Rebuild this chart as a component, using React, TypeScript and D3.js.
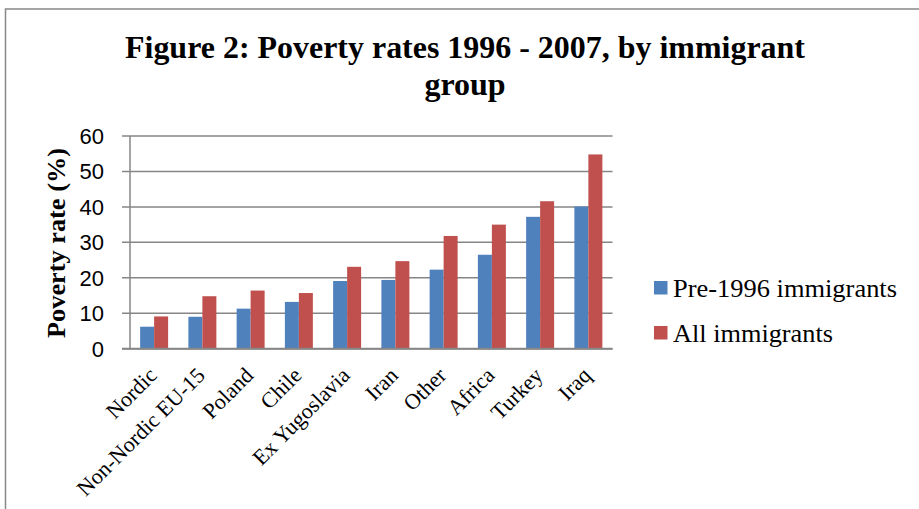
import React from "react";
import * as d3 from "d3";

const categories = ["Nordic", "Non-Nordic EU-15", "Poland", "Chile", "Ex Yugoslavia", "Iran", "Other", "Africa", "Turkey", "Iraq"];
const pre1996 = [6.2, 9.0, 11.3, 13.2, 19.1, 19.4, 22.3, 26.5, 37.2, 40.1];
const allImmigrants = [9.1, 14.8, 16.4, 15.7, 23.1, 24.7, 31.8, 35.0, 41.6, 54.8];
const seriesNames = ["Pre-1996 immigrants", "All immigrants"];
const seriesColors = ["#4F81BD", "#C0504D"];
const yTicks = [0, 10, 20, 30, 40, 50, 60];
const titleLines = ["Figure 2: Poverty rates 1996 - 2007, by immigrant", "group"];
const yTitle = "Poverty rate (%)";

const W = 919, H = 509;
const left = 130, right = 612.5, top = 136, bottom = 348.7;

export default function App() {
  const x = d3.scaleBand<string>().domain(categories).range([left, right]).paddingInner(0.42).paddingOuter(0.21);
  const y = d3.scaleLinear().domain([0, 60]).range([bottom, top]);
  const series = [pre1996, allImmigrants];
  const bw = x.bandwidth() / 2;
  const serif = "'Liberation Serif', 'Times New Roman', serif";
  const sans = "'Liberation Sans', Arial, sans-serif";
  return (
    <svg width={W} height={H} style={{ position: "absolute", left: 0, top: 0, background: "#fff" }}>
      <rect x={5.5} y={9} width={W + 10} height={H + 10} fill="#fff" stroke="#888" strokeWidth={1.5} />
      <text x={465} y={58} textAnchor="middle" fontFamily={serif} fontWeight="bold" fontSize={32} textLength={680} lengthAdjust="spacingAndGlyphs">{titleLines[0]}</text>
      <text x={465} y={95} textAnchor="middle" fontFamily={serif} fontWeight="bold" fontSize={32}>{titleLines[1]}</text>
      {yTicks.map(t => (
        <g key={t}>
          <line x1={left - 8} x2={right} y1={y(t)} y2={y(t)} stroke="#868686" strokeWidth={1.5} />
          <text x={104} y={y(t)} dy="0.36em" textAnchor="end" fontFamily={sans} fontSize={22} fill="#000">{t}</text>
        </g>
      ))}
      {categories.map((c, i) => (
        <g key={c}>
          {series.map((s, j) => (
            <rect key={j} x={(x(c) as number) + j * bw} y={y(s[i])} width={bw} height={bottom - y(s[i])} fill={seriesColors[j]} />
          ))}
          <text transform={`translate(${(x(c) as number) + x.bandwidth() / 2 + 4},${bottom + 28}) rotate(-45)`} textAnchor="end" fontFamily={serif} fontSize={22}>{c}</text>
        </g>
      ))}
      <line x1={left} x2={left} y1={top} y2={bottom} stroke="#868686" strokeWidth={1.5} />
      <line x1={left - 8} x2={right} y1={bottom} y2={bottom} stroke="#868686" strokeWidth={2} />
      <text transform={`translate(65,243) rotate(-90)`} textAnchor="middle" fontFamily={serif} fontWeight="bold" fontSize={26} textLength={190} lengthAdjust="spacingAndGlyphs">{yTitle}</text>
      {seriesNames.map((n, i) => (
        <g key={n}>
          <rect x={654} y={281 + i * 45} width={13.5} height={13.5} fill={seriesColors[i]} />
          <text x={673} y={297 + i * 45} fontFamily={serif} fontSize={26} textLength={i === 0 ? 224 : 160} lengthAdjust="spacingAndGlyphs">{n}</text>
        </g>
      ))}
    </svg>
  );
}
